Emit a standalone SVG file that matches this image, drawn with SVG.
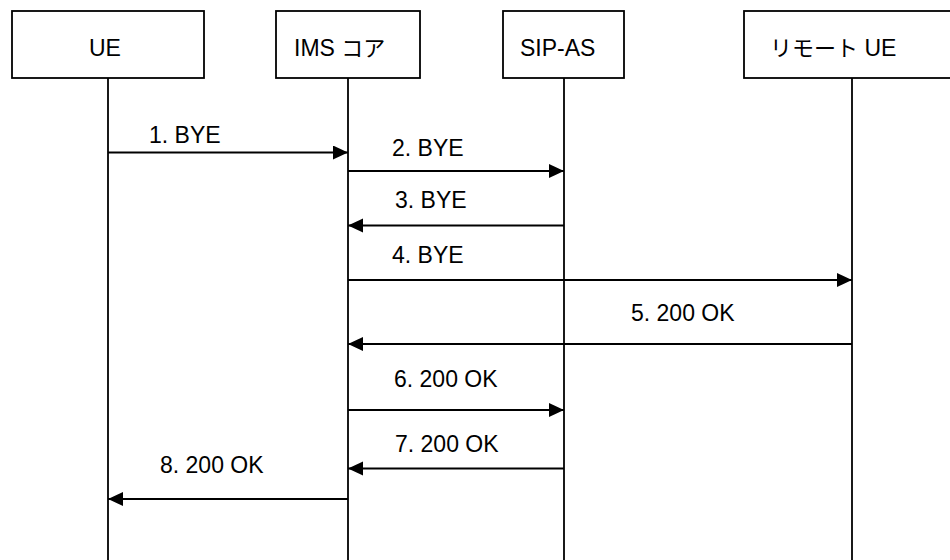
<svg xmlns="http://www.w3.org/2000/svg" width="950" height="560" viewBox="0 0 950 560">
<style>
.box{fill:#fff;stroke:#000;stroke-width:1.8}
.life{stroke:#000;stroke-width:1.8;fill:none}
.msg{stroke:#000;stroke-width:1.8;fill:none;marker-end:url(#ah)}
text{font-family:"Liberation Sans","Noto Sans CJK JP",Arial,sans-serif;font-size:23px;fill:#000}
.cjk{font-family:"Noto Sans CJK JP",sans-serif;font-size:22px}
</style>
<defs>
<marker id="ah" markerUnits="userSpaceOnUse" markerWidth="16" markerHeight="15" refX="15" refY="7" orient="auto" viewBox="0 0 16 15">
<path d="M0,0 L15,7 L0,14 z" fill="#000"/>
</marker>
</defs>
<rect width="950" height="560" fill="#fff"/>
<g id="ue">
<rect class="box" x="12" y="11" width="192" height="67"/>
<line class="life" x1="108" y1="78" x2="108" y2="560"/>
<text x="89" y="56">UE</text>
</g>
<g id="ims">
<rect class="box" x="276" y="11" width="144" height="67"/>
<line class="life" x1="348" y1="78" x2="348" y2="560"/>
<text x="294" y="56">IMS <tspan class="cjk">コア</tspan></text>
</g>
<g id="sipas">
<rect class="box" x="503" y="11" width="121" height="67"/>
<line class="life" x1="564" y1="78" x2="564" y2="560"/>
<text x="520" y="56">SIP-AS</text>
</g>
<g id="remote">
<rect class="box" x="744" y="11" width="210" height="67"/>
<line class="life" x1="852" y1="78" x2="852" y2="560"/>
<text x="770" y="56"><tspan class="cjk">リモート</tspan> UE</text>
</g>
<g id="connectors">
<line class="msg" x1="108" y1="152.5" x2="348" y2="152.5"/>
<line class="msg" x1="348" y1="171" x2="564" y2="171"/>
<line class="msg" x1="564" y1="225.5" x2="348" y2="225.5"/>
<line class="msg" x1="348" y1="280" x2="852" y2="280"/>
<line class="msg" x1="852" y1="344" x2="348" y2="344"/>
<line class="msg" x1="348" y1="410" x2="564" y2="410"/>
<line class="msg" x1="564" y1="468.5" x2="348" y2="468.5"/>
<line class="msg" x1="348" y1="499" x2="108" y2="499"/>
<text x="149" y="143">1. BYE</text>
<text x="392" y="156">2. BYE</text>
<text x="395" y="208">3. BYE</text>
<text x="392" y="263">4. BYE</text>
<text x="631" y="321">5. 200 OK</text>
<text x="394" y="387">6. 200 OK</text>
<text x="395" y="452">7. 200 OK</text>
<text x="160" y="473">8. 200 OK</text>
</g>
</svg>
